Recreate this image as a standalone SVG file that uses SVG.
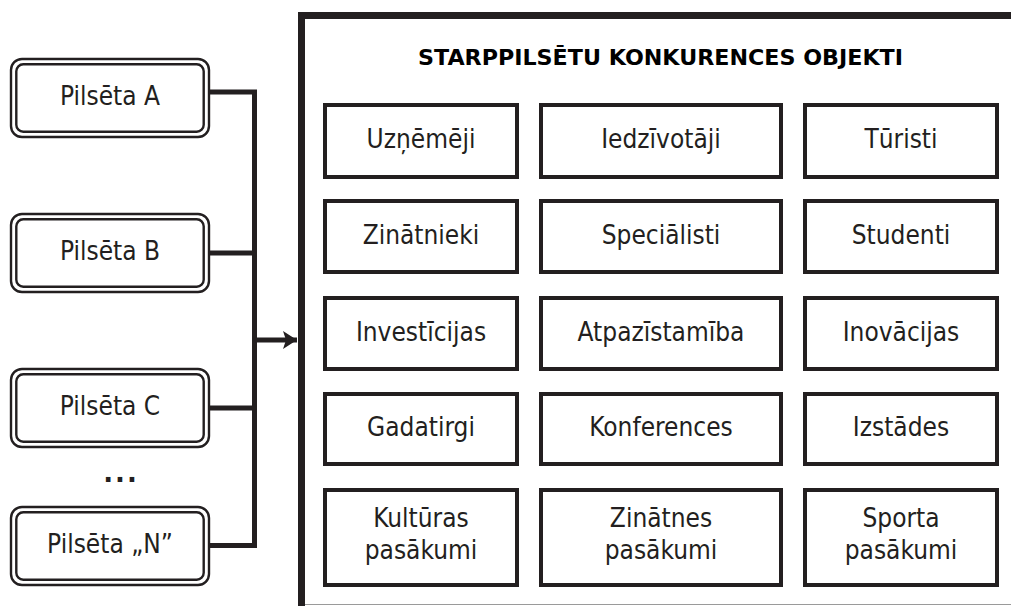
<svg xmlns="http://www.w3.org/2000/svg" width="1011" height="606" viewBox="0 0 1011 606">
<style>
  .t { font-family: "DejaVu Sans Condensed", "DejaVu Sans", sans-serif; font-size: 26px; fill: #231f20; text-anchor: middle; }
  .title { font-family: "DejaVu Sans", sans-serif; font-weight: bold; font-size: 22px; fill: #000; text-anchor: middle; }
  .obj { fill: #fff; stroke: #231f20; stroke-width: 4; }
  .cityO { fill: #fff; stroke: #231f20; stroke-width: 2.4; }
  .cityI { fill: none; stroke: #231f20; stroke-width: 2.4; }
  .conn { fill: none; stroke: #231f20; stroke-width: 5; }
</style>
<defs>
  <marker id="arr" markerUnits="userSpaceOnUse" markerWidth="16" markerHeight="20" refX="14" refY="10" orient="auto">
    <path d="M0,1 L14,10 L0,19 L3,10 Z" fill="#231f20"/>
  </marker>
</defs>
<rect width="1011" height="606" fill="#fff"/>

<g id="container">
  <path d="M1015,15.5 H301.5 V610" fill="none" stroke="#231f20" stroke-width="7"/>
  <line x1="305" y1="604.5" x2="1011" y2="604.5" stroke="#9a9a9a" stroke-width="1"/>
  <text class="title" x="660.5" y="65" textLength="485" lengthAdjust="spacingAndGlyphs">STARPPILSĒTU KONKURENCES OBJEKTI</text>
</g>

<g id="connectors">
  <path class="conn" d="M209,92 H254.5 M209,253 H254.5 M209,408 H254.5 M209,545.5 H254.5 M254.5,89.5 V548"/>
  <line x1="254.5" y1="340" x2="297" y2="340" stroke="#231f20" stroke-width="5" marker-end="url(#arr)"/>
</g>

<g id="city-a">
  <rect class="cityO" x="11" y="59" width="198" height="78" rx="11"/>
  <rect class="cityI" x="16.3" y="64.3" width="187.4" height="67.4" rx="7"/>
  <text class="t" x="110" y="105">Pilsēta A</text>
</g>
<g id="city-b">
  <rect class="cityO" x="11" y="214" width="198" height="78" rx="11"/>
  <rect class="cityI" x="16.3" y="219.3" width="187.4" height="67.4" rx="7"/>
  <text class="t" x="110" y="260">Pilsēta B</text>
</g>
<g id="city-c">
  <rect class="cityO" x="11" y="369" width="198" height="78" rx="11"/>
  <rect class="cityI" x="16.3" y="374.3" width="187.4" height="67.4" rx="7"/>
  <text class="t" x="110" y="415">Pilsēta C</text>
</g>
<g id="dots">
  <text x="121" y="482" style="font-family:'DejaVu Sans',sans-serif;font-weight:bold;font-size:26px;fill:#231f20;text-anchor:middle;letter-spacing:2px">...</text>
</g>
<g id="city-n">
  <rect class="cityO" x="11" y="507" width="198" height="78" rx="11"/>
  <rect class="cityI" x="16.3" y="512.3" width="187.4" height="67.4" rx="7"/>
  <text class="t" x="110" y="553">Pilsēta „N”</text>
</g>

<g id="uznemeji"><rect class="obj" x="325" y="105" width="192" height="72"/><text class="t" x="421" y="148">Uzņēmēji</text></g>
<g id="iedzivotaji"><rect class="obj" x="541" y="105" width="240" height="72"/><text class="t" x="661" y="148">Iedzīvotāji</text></g>
<g id="turisti"><rect class="obj" x="805" y="105" width="192" height="72"/><text class="t" x="901" y="148">Tūristi</text></g>

<g id="zinatnieki"><rect class="obj" x="325" y="201" width="192" height="71"/><text class="t" x="421" y="244">Zinātnieki</text></g>
<g id="specialisti"><rect class="obj" x="541" y="201" width="240" height="71"/><text class="t" x="661" y="244">Speciālisti</text></g>
<g id="studenti"><rect class="obj" x="805" y="201" width="192" height="71"/><text class="t" x="901" y="244">Studenti</text></g>

<g id="investicijas"><rect class="obj" x="325" y="298" width="192" height="71"/><text class="t" x="421" y="341">Investīcijas</text></g>
<g id="atpazistamiba"><rect class="obj" x="541" y="298" width="240" height="71"/><text class="t" x="661" y="341">Atpazīstamība</text></g>
<g id="inovacijas"><rect class="obj" x="805" y="298" width="192" height="71"/><text class="t" x="901" y="341">Inovācijas</text></g>

<g id="gadatirgi"><rect class="obj" x="325" y="394" width="192" height="70"/><text class="t" x="421" y="436">Gadatirgi</text></g>
<g id="konferences"><rect class="obj" x="541" y="394" width="240" height="70"/><text class="t" x="661" y="436">Konferences</text></g>
<g id="izstades"><rect class="obj" x="805" y="394" width="192" height="70"/><text class="t" x="901" y="436">Izstādes</text></g>

<g id="kulturas"><rect class="obj" x="325" y="490" width="192" height="95"/><text class="t" x="421" y="527">Kultūras</text><text class="t" x="421" y="559">pasākumi</text></g>
<g id="zinatnes"><rect class="obj" x="541" y="490" width="240" height="95"/><text class="t" x="661" y="527">Zinātnes</text><text class="t" x="661" y="559">pasākumi</text></g>
<g id="sporta"><rect class="obj" x="805" y="490" width="192" height="95"/><text class="t" x="901" y="527">Sporta</text><text class="t" x="901" y="559">pasākumi</text></g>
</svg>
